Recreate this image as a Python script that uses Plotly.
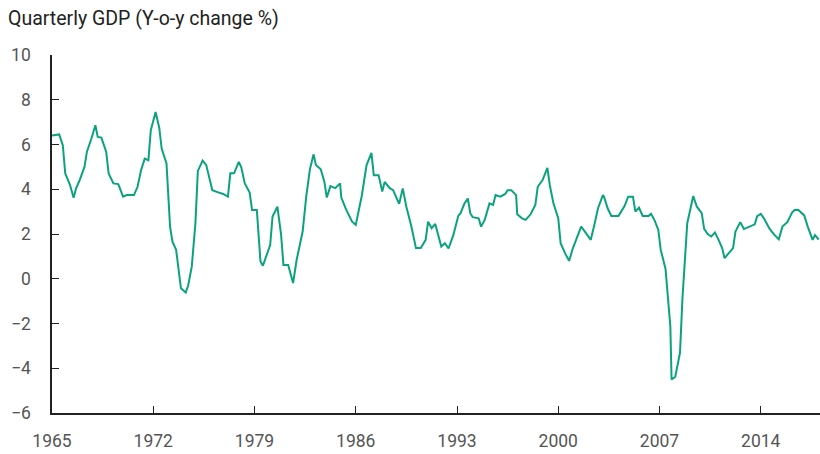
import plotly.graph_objects as go

# Observation dates (YYYY-MM) and year-on-year GDP change (%)
dates = [
    "1965-01","1965-07","1965-10","1965-12","1966-04","1966-07","1966-09","1966-12",
    "1967-04","1967-06","1967-10","1968-01","1968-03","1968-06","1968-10","1968-12",
    "1969-04","1969-08","1969-12","1970-03","1970-09","1970-12","1971-03","1971-06",
    "1971-09","1971-11","1972-03","1972-06","1972-08","1972-12","1973-03","1973-05",
    "1973-08","1973-12","1974-04","1974-06","1974-09","1974-12","1975-02","1975-06",
    "1975-09","1976-02","1976-07","1976-11","1977-03","1977-05","1977-08","1977-12",
    "1978-02","1978-05","1978-09","1978-11","1979-03","1979-06","1979-08","1980-02",
    "1980-04","1980-08","1980-11","1981-01","1981-05","1981-09","1981-12","1982-05",
    "1982-08","1982-11","1983-02","1983-04","1983-08","1983-11","1984-01","1984-04",
    "1984-08","1984-12","1985-01","1985-05","1985-10","1986-01","1986-06","1986-10",
    "1987-02","1987-04","1987-08","1987-11","1988-01","1988-05","1988-08","1989-01",
    "1989-04","1989-07","1989-11","1990-03","1990-07","1990-11","1991-01","1991-04",
    "1991-07","1991-12","1992-03","1992-06","1992-10","1993-02","1993-04","1993-07",
    "1993-10","1993-12","1994-02","1994-07","1994-09","1994-12","1995-04","1995-07",
    "1995-09","1996-01","1996-05","1996-07","1996-10","1997-02","1997-03","1997-07",
    "1997-10","1998-02","1998-06","1998-08","1998-12","1999-04","1999-06","1999-09",
    "2000-01","2000-03","2000-07","2000-10","2001-01","2001-05","2001-08","2001-12",
    "2002-04","2002-07","2002-10","2003-02","2003-03","2003-06","2003-09","2004-03",
    "2004-06","2004-08","2004-11","2005-03","2005-05","2005-08","2005-11","2006-04",
    "2006-06","2006-09","2006-12","2007-02","2007-06","2007-08","2007-10","2007-11",
    "2008-02","2008-06","2008-08","2008-12","2009-03","2009-05","2009-08","2009-12",
    "2010-02","2010-05","2010-08","2010-11","2011-02","2011-05","2011-07","2011-10",
    "2012-02","2012-04","2012-08","2012-11","2013-03","2013-08","2013-10","2014-01",
    "2014-04","2014-08","2014-12","2015-04","2015-07","2015-11","2016-03","2016-05",
    "2016-08","2017-01","2017-04","2017-08","2017-10","2018-01",
]

gdp_yoy = [
    6.40, 6.45, 5.97, 4.71, 4.19, 3.62, 4.04, 4.41,
    5.00, 5.67, 6.31, 6.86, 6.34, 6.31, 5.67, 4.71,
    4.26, 4.23, 3.67, 3.74, 3.74, 4.11, 4.86, 5.37,
    5.30, 6.64, 7.45, 6.75, 5.82, 5.15, 2.33, 1.66,
    1.29, -0.43, -0.62, -0.30, 0.55, 2.48, 4.82, 5.28,
    5.08, 3.96, 3.86, 3.79, 3.67, 4.71, 4.71, 5.22,
    4.98, 4.26, 3.85, 3.07, 3.07, 0.77, 0.58, 1.51,
    2.78, 3.22, 2.00, 0.62, 0.62, -0.19, 0.85, 2.11,
    3.70, 4.90, 5.56, 5.08, 4.89, 4.33, 3.63, 4.14,
    4.05, 4.26, 3.63, 3.10, 2.55, 2.41, 3.70, 5.08,
    5.63, 4.63, 4.63, 3.90, 4.33, 4.06, 3.96, 3.35,
    4.04, 3.22, 2.37, 1.37, 1.37, 1.74, 2.55, 2.26,
    2.45, 1.44, 1.59, 1.35, 1.96, 2.81, 2.93, 3.34,
    3.59, 2.93, 2.75, 2.70, 2.33, 2.63, 3.37, 3.30,
    3.74, 3.67, 3.79, 3.96, 3.96, 3.74, 2.88, 2.70,
    2.63, 2.88, 3.30, 4.11, 4.41, 4.96, 4.19, 3.37,
    2.70, 1.59, 1.10, 0.80, 1.35, 1.89, 2.33, 2.04,
    1.74, 2.41, 3.15, 3.74, 3.67, 3.15, 2.81, 2.81,
    3.07, 3.25, 3.67, 3.67, 3.00, 3.18, 2.81, 2.81,
    2.90, 2.60, 2.18, 1.29, 0.45, -0.94, -2.12, -4.50,
    -4.39, -3.31, -0.90, 2.48, 3.15, 3.70, 3.22, 2.93,
    2.23, 2.00, 1.89, 2.07, 1.74, 1.37, 0.92, 1.10,
    1.37, 2.11, 2.53, 2.22, 2.30, 2.43, 2.80, 2.90,
    2.67, 2.26, 1.98, 1.76, 2.33, 2.53, 2.96, 3.07,
    3.08, 2.83, 2.33, 1.74, 1.95, 1.75,
]

x_tick_years = ["1965", "1972", "1979", "1986", "1993", "2000", "2007", "2014"]
y_ticks = [-6, -4, -2, 0, 2, 4, 6, 8, 10]

fig = go.Figure(
    go.Scatter(
        x=dates,
        y=gdp_yoy,
        mode="lines",
        line=dict(color="#0aa37e", width=2),
        hoverinfo="x+y",
    )
)

FONT = "Roboto, 'Noto Sans', sans-serif"

fig.update_layout(
    width=820,
    height=454,
    margin=dict(l=52, r=0, t=55, b=41, autoexpand=False),
    paper_bgcolor="white",
    plot_bgcolor="white",
    showlegend=False,
    font=dict(family=FONT, size=17, color="#555555"),
    title=dict(
        text="Quarterly GDP (Y-o-y change %)",
        xref="container", yref="container",
        x=8 / 820, xanchor="left",
        y=1 - 18 / 454, yanchor="middle",
        font=dict(family=FONT, size=19.5, color="#222222"),
    ),
)

fig.update_xaxes(
    type="date",
    range=["1965-01-01", "2018-02-04"],
    tickvals=[y + "-01-01" for y in x_tick_years],
    ticktext=x_tick_years,
    ticks="inside",
    ticklen=7,
    tickwidth=1,
    tickcolor="#222222",
    showline=True,
    linecolor="#222222",
    linewidth=1.5,
    showgrid=False,
    zeroline=False,
    automargin=False,
    ticklabelstandoff=11,
    tickfont=dict(family=FONT, size=17.5, color="#555555"),
)

fig.update_yaxes(
    range=[-6, 10],
    tickvals=y_ticks,
    ticks="inside",
    ticklen=7,
    tickwidth=1,
    tickcolor="#222222",
    showline=True,
    linecolor="#222222",
    linewidth=1.5,
    showgrid=False,
    zeroline=False,
    automargin=False,
    ticklabelstandoff=16,
    tickfont=dict(family=FONT, size=17.5, color="#555555"),
)

fig.write_html(
    "out.html",
    config={"displayModeBar": False},
    post_script="document.body.style.margin='0px';document.body.style.overflow='hidden';",
)
